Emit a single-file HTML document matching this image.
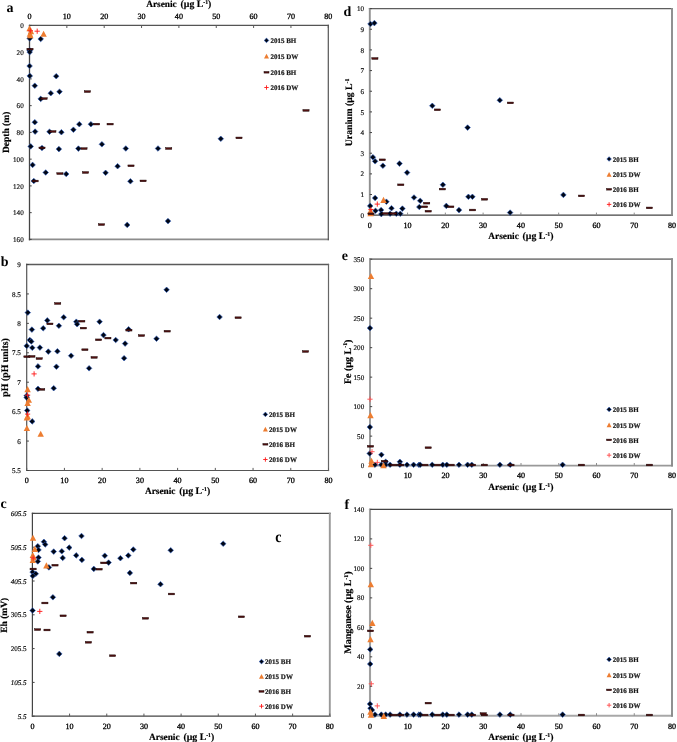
<!DOCTYPE html><html><head><meta charset="utf-8"><style>
*{margin:0;padding:0}
html,body{width:677px;height:742px;background:#fff;overflow:hidden}
svg{display:block;will-change:transform}
text{font-family:"Liberation Serif",serif;fill:#000;text-rendering:geometricPrecision}
.xl{font-size:8.1px;text-anchor:middle;stroke:#000;stroke-width:0.3px}
.yl{font-size:7.1px;text-anchor:end;stroke:#111;stroke-width:0.16px}
.it{font-style:italic}
.lt{font-size:14px;font-weight:bold;fill:#000}
.ti{font-size:9.8px;font-weight:bold;stroke:#000;stroke-width:0.18px}
.sup{font-size:5.8px}
.lg{font-size:7.0px;font-weight:bold;fill:#1a1a1a;stroke:#1a1a1a;stroke-width:0.22px}
.dm{fill:#000614;stroke:#2d5fc4;stroke-width:0.6}
.tr{fill:#ed7d31}
.ds{fill:#521010;stroke:#140202;stroke-width:0.45}
.pl{stroke:#ff2020;stroke-width:0.95;fill:none}
.pk .pl{stroke:#ff5050}
</style></head><body><svg width="677" height="742" viewBox="0 0 677 742">
<rect width="677" height="742" fill="#fff"/>
<line x1="28.85" y1="25.4" x2="328.90" y2="25.4" stroke="#555" stroke-width="1.2"/>
<line x1="28.85" y1="239.4" x2="328.90" y2="239.4" stroke="#8c8c8c" stroke-width="1.9"/>
<line x1="328.3" y1="24.80" x2="328.3" y2="240.35" stroke="#555" stroke-width="1.2"/>
<line x1="29.5" y1="24.80" x2="29.5" y2="240.35" stroke="#444" stroke-width="1.3"/>
<line x1="29.50" y1="25.4" x2="29.50" y2="28.0" stroke="#5a5a5a" stroke-width="1"/>
<text x="29.50" y="18.90" class="xl">0</text>
<line x1="66.85" y1="25.4" x2="66.85" y2="28.0" stroke="#5a5a5a" stroke-width="1"/>
<text x="66.85" y="18.90" class="xl">10</text>
<line x1="104.20" y1="25.4" x2="104.20" y2="28.0" stroke="#5a5a5a" stroke-width="1"/>
<text x="104.20" y="18.90" class="xl">20</text>
<line x1="141.55" y1="25.4" x2="141.55" y2="28.0" stroke="#5a5a5a" stroke-width="1"/>
<text x="141.55" y="18.90" class="xl">30</text>
<line x1="178.90" y1="25.4" x2="178.90" y2="28.0" stroke="#5a5a5a" stroke-width="1"/>
<text x="178.90" y="18.90" class="xl">40</text>
<line x1="216.25" y1="25.4" x2="216.25" y2="28.0" stroke="#5a5a5a" stroke-width="1"/>
<text x="216.25" y="18.90" class="xl">50</text>
<line x1="253.60" y1="25.4" x2="253.60" y2="28.0" stroke="#5a5a5a" stroke-width="1"/>
<text x="253.60" y="18.90" class="xl">60</text>
<line x1="290.95" y1="25.4" x2="290.95" y2="28.0" stroke="#5a5a5a" stroke-width="1"/>
<text x="290.95" y="18.90" class="xl">70</text>
<line x1="328.30" y1="25.4" x2="328.30" y2="28.0" stroke="#5a5a5a" stroke-width="1"/>
<text x="328.30" y="18.90" class="xl">80</text>
<line x1="29.5" y1="25.40" x2="31.7" y2="25.40" stroke="#444" stroke-width="1"/>
<text x="23.70" y="28.00" class="yl">0</text>
<line x1="29.5" y1="52.15" x2="31.7" y2="52.15" stroke="#444" stroke-width="1"/>
<text x="23.70" y="54.75" class="yl">20</text>
<line x1="29.5" y1="78.90" x2="31.7" y2="78.90" stroke="#444" stroke-width="1"/>
<text x="23.70" y="81.50" class="yl">40</text>
<line x1="29.5" y1="105.65" x2="31.7" y2="105.65" stroke="#444" stroke-width="1"/>
<text x="23.70" y="108.25" class="yl">60</text>
<line x1="29.5" y1="132.40" x2="31.7" y2="132.40" stroke="#444" stroke-width="1"/>
<text x="23.70" y="135.00" class="yl">80</text>
<line x1="29.5" y1="159.15" x2="31.7" y2="159.15" stroke="#444" stroke-width="1"/>
<text x="23.70" y="161.75" class="yl">100</text>
<line x1="29.5" y1="185.90" x2="31.7" y2="185.90" stroke="#444" stroke-width="1"/>
<text x="23.70" y="188.50" class="yl">120</text>
<line x1="29.5" y1="212.65" x2="31.7" y2="212.65" stroke="#444" stroke-width="1"/>
<text x="23.70" y="215.25" class="yl">140</text>
<line x1="29.5" y1="239.40" x2="31.7" y2="239.40" stroke="#444" stroke-width="1"/>
<text x="23.70" y="242.00" class="yl">160</text>
<line x1="26.10" y1="264.5" x2="329.10" y2="264.5" stroke="#5a5a5a" stroke-width="1.3"/>
<line x1="26.10" y1="470.5" x2="329.10" y2="470.5" stroke="#555" stroke-width="1.2"/>
<line x1="328.5" y1="263.85" x2="328.5" y2="471.10" stroke="#666" stroke-width="1.2"/>
<line x1="26.7" y1="263.85" x2="26.7" y2="471.10" stroke="#555" stroke-width="1.2"/>
<line x1="26.70" y1="470.5" x2="26.70" y2="467.9" stroke="#5a5a5a" stroke-width="1"/>
<text x="26.70" y="483.20" class="xl">0</text>
<line x1="64.42" y1="470.5" x2="64.42" y2="467.9" stroke="#5a5a5a" stroke-width="1"/>
<text x="64.42" y="483.20" class="xl">10</text>
<line x1="102.15" y1="470.5" x2="102.15" y2="467.9" stroke="#5a5a5a" stroke-width="1"/>
<text x="102.15" y="483.20" class="xl">20</text>
<line x1="139.88" y1="470.5" x2="139.88" y2="467.9" stroke="#5a5a5a" stroke-width="1"/>
<text x="139.88" y="483.20" class="xl">30</text>
<line x1="177.60" y1="470.5" x2="177.60" y2="467.9" stroke="#5a5a5a" stroke-width="1"/>
<text x="177.60" y="483.20" class="xl">40</text>
<line x1="215.32" y1="470.5" x2="215.32" y2="467.9" stroke="#5a5a5a" stroke-width="1"/>
<text x="215.32" y="483.20" class="xl">50</text>
<line x1="253.05" y1="470.5" x2="253.05" y2="467.9" stroke="#5a5a5a" stroke-width="1"/>
<text x="253.05" y="483.20" class="xl">60</text>
<line x1="290.77" y1="470.5" x2="290.77" y2="467.9" stroke="#5a5a5a" stroke-width="1"/>
<text x="290.77" y="483.20" class="xl">70</text>
<line x1="328.50" y1="470.5" x2="328.50" y2="467.9" stroke="#5a5a5a" stroke-width="1"/>
<text x="328.50" y="483.20" class="xl">80</text>
<line x1="26.7" y1="470.50" x2="28.9" y2="470.50" stroke="#444" stroke-width="1"/>
<text x="20.90" y="473.10" class="yl">5.5</text>
<line x1="26.7" y1="441.07" x2="28.9" y2="441.07" stroke="#444" stroke-width="1"/>
<text x="20.90" y="443.67" class="yl">6</text>
<line x1="26.7" y1="411.64" x2="28.9" y2="411.64" stroke="#444" stroke-width="1"/>
<text x="20.90" y="414.24" class="yl">6.5</text>
<line x1="26.7" y1="382.21" x2="28.9" y2="382.21" stroke="#444" stroke-width="1"/>
<text x="20.90" y="384.81" class="yl">7</text>
<line x1="26.7" y1="352.79" x2="28.9" y2="352.79" stroke="#444" stroke-width="1"/>
<text x="20.90" y="355.39" class="yl">7.5</text>
<line x1="26.7" y1="323.36" x2="28.9" y2="323.36" stroke="#444" stroke-width="1"/>
<text x="20.90" y="325.96" class="yl">8</text>
<line x1="26.7" y1="293.93" x2="28.9" y2="293.93" stroke="#444" stroke-width="1"/>
<text x="20.90" y="296.53" class="yl">8.5</text>
<line x1="26.7" y1="264.50" x2="28.9" y2="264.50" stroke="#444" stroke-width="1"/>
<text x="20.90" y="267.10" class="yl">9</text>
<line x1="31.80" y1="513.4" x2="330.75" y2="513.4" stroke="#4a4a4a" stroke-width="1.3"/>
<line x1="31.80" y1="716.2" x2="330.75" y2="716.2" stroke="#444" stroke-width="1.2"/>
<line x1="329.8" y1="512.75" x2="329.8" y2="716.80" stroke="#999" stroke-width="1.9"/>
<line x1="32.4" y1="512.75" x2="32.4" y2="716.80" stroke="#444" stroke-width="1.2"/>
<line x1="32.40" y1="716.2" x2="32.40" y2="713.6" stroke="#5a5a5a" stroke-width="1"/>
<text x="32.40" y="728.90" class="xl">0</text>
<line x1="69.58" y1="716.2" x2="69.58" y2="713.6" stroke="#5a5a5a" stroke-width="1"/>
<text x="69.58" y="728.90" class="xl">10</text>
<line x1="106.75" y1="716.2" x2="106.75" y2="713.6" stroke="#5a5a5a" stroke-width="1"/>
<text x="106.75" y="728.90" class="xl">20</text>
<line x1="143.93" y1="716.2" x2="143.93" y2="713.6" stroke="#5a5a5a" stroke-width="1"/>
<text x="143.93" y="728.90" class="xl">30</text>
<line x1="181.10" y1="716.2" x2="181.10" y2="713.6" stroke="#5a5a5a" stroke-width="1"/>
<text x="181.10" y="728.90" class="xl">40</text>
<line x1="218.28" y1="716.2" x2="218.28" y2="713.6" stroke="#5a5a5a" stroke-width="1"/>
<text x="218.28" y="728.90" class="xl">50</text>
<line x1="255.45" y1="716.2" x2="255.45" y2="713.6" stroke="#5a5a5a" stroke-width="1"/>
<text x="255.45" y="728.90" class="xl">60</text>
<line x1="292.62" y1="716.2" x2="292.62" y2="713.6" stroke="#5a5a5a" stroke-width="1"/>
<text x="292.62" y="728.90" class="xl">70</text>
<line x1="329.80" y1="716.2" x2="329.80" y2="713.6" stroke="#5a5a5a" stroke-width="1"/>
<text x="329.80" y="728.90" class="xl">80</text>
<line x1="32.4" y1="716.20" x2="34.6" y2="716.20" stroke="#444" stroke-width="1"/>
<text x="26.60" y="718.80" class="yl it">5.5</text>
<line x1="32.4" y1="682.40" x2="34.6" y2="682.40" stroke="#444" stroke-width="1"/>
<text x="26.60" y="685.00" class="yl it">105.5</text>
<line x1="32.4" y1="648.60" x2="34.6" y2="648.60" stroke="#444" stroke-width="1"/>
<text x="26.60" y="651.20" class="yl">205.5</text>
<line x1="32.4" y1="614.80" x2="34.6" y2="614.80" stroke="#444" stroke-width="1"/>
<text x="26.60" y="617.40" class="yl">305.5</text>
<line x1="32.4" y1="581.00" x2="34.6" y2="581.00" stroke="#444" stroke-width="1"/>
<text x="26.60" y="583.60" class="yl it">405.5</text>
<line x1="32.4" y1="547.20" x2="34.6" y2="547.20" stroke="#444" stroke-width="1"/>
<text x="26.60" y="549.80" class="yl it">505.5</text>
<line x1="32.4" y1="513.40" x2="34.6" y2="513.40" stroke="#444" stroke-width="1"/>
<text x="26.60" y="516.00" class="yl it">605.5</text>
<line x1="368.85" y1="8.6" x2="672.95" y2="8.6" stroke="#5e5e5e" stroke-width="1.3"/>
<line x1="368.85" y1="215.2" x2="672.95" y2="215.2" stroke="#444" stroke-width="1.2"/>
<line x1="672.0" y1="7.95" x2="672.0" y2="215.80" stroke="#8c8c8c" stroke-width="1.9"/>
<line x1="369.8" y1="7.95" x2="369.8" y2="215.80" stroke="#909090" stroke-width="1.9"/>
<line x1="369.80" y1="215.2" x2="369.80" y2="212.6" stroke="#8c8c8c" stroke-width="1"/>
<text x="369.80" y="227.90" class="xl">0</text>
<line x1="407.57" y1="215.2" x2="407.57" y2="212.6" stroke="#8c8c8c" stroke-width="1"/>
<text x="407.57" y="227.90" class="xl">10</text>
<line x1="445.35" y1="215.2" x2="445.35" y2="212.6" stroke="#8c8c8c" stroke-width="1"/>
<text x="445.35" y="227.90" class="xl">20</text>
<line x1="483.12" y1="215.2" x2="483.12" y2="212.6" stroke="#8c8c8c" stroke-width="1"/>
<text x="483.12" y="227.90" class="xl">30</text>
<line x1="520.90" y1="215.2" x2="520.90" y2="212.6" stroke="#8c8c8c" stroke-width="1"/>
<text x="520.90" y="227.90" class="xl">40</text>
<line x1="558.67" y1="215.2" x2="558.67" y2="212.6" stroke="#8c8c8c" stroke-width="1"/>
<text x="558.67" y="227.90" class="xl">50</text>
<line x1="596.45" y1="215.2" x2="596.45" y2="212.6" stroke="#8c8c8c" stroke-width="1"/>
<text x="596.45" y="227.90" class="xl">60</text>
<line x1="634.23" y1="215.2" x2="634.23" y2="212.6" stroke="#8c8c8c" stroke-width="1"/>
<text x="634.23" y="227.90" class="xl">70</text>
<line x1="672.00" y1="215.2" x2="672.00" y2="212.6" stroke="#8c8c8c" stroke-width="1"/>
<text x="672.00" y="227.90" class="xl">80</text>
<line x1="369.8" y1="215.20" x2="372.0" y2="215.20" stroke="#444" stroke-width="1"/>
<text x="364.00" y="217.80" class="yl">0</text>
<line x1="369.8" y1="194.54" x2="372.0" y2="194.54" stroke="#444" stroke-width="1"/>
<text x="364.00" y="197.14" class="yl">1</text>
<line x1="369.8" y1="173.88" x2="372.0" y2="173.88" stroke="#444" stroke-width="1"/>
<text x="364.00" y="176.48" class="yl">2</text>
<line x1="369.8" y1="153.22" x2="372.0" y2="153.22" stroke="#444" stroke-width="1"/>
<text x="364.00" y="155.82" class="yl">3</text>
<line x1="369.8" y1="132.56" x2="372.0" y2="132.56" stroke="#444" stroke-width="1"/>
<text x="364.00" y="135.16" class="yl">4</text>
<line x1="369.8" y1="111.90" x2="372.0" y2="111.90" stroke="#444" stroke-width="1"/>
<text x="364.00" y="114.50" class="yl">5</text>
<line x1="369.8" y1="91.24" x2="372.0" y2="91.24" stroke="#444" stroke-width="1"/>
<text x="364.00" y="93.84" class="yl">6</text>
<line x1="369.8" y1="70.58" x2="372.0" y2="70.58" stroke="#444" stroke-width="1"/>
<text x="364.00" y="73.18" class="yl">7</text>
<line x1="369.8" y1="49.92" x2="372.0" y2="49.92" stroke="#444" stroke-width="1"/>
<text x="364.00" y="52.52" class="yl">8</text>
<line x1="369.8" y1="29.26" x2="372.0" y2="29.26" stroke="#444" stroke-width="1"/>
<text x="364.00" y="31.86" class="yl">9</text>
<line x1="369.8" y1="8.60" x2="372.0" y2="8.60" stroke="#444" stroke-width="1"/>
<text x="364.00" y="11.20" class="yl">10</text>
<line x1="369.05" y1="259.2" x2="672.95" y2="259.2" stroke="#848484" stroke-width="1.7"/>
<line x1="369.05" y1="465.6" x2="672.95" y2="465.6" stroke="#999" stroke-width="1.9"/>
<line x1="672.0" y1="258.35" x2="672.0" y2="466.55" stroke="#8c8c8c" stroke-width="1.9"/>
<line x1="370.0" y1="258.35" x2="370.0" y2="466.55" stroke="#999" stroke-width="1.9"/>
<line x1="370.00" y1="465.6" x2="370.00" y2="463.0" stroke="#8c8c8c" stroke-width="1"/>
<text x="370.00" y="478.30" class="xl">0</text>
<line x1="407.75" y1="465.6" x2="407.75" y2="463.0" stroke="#8c8c8c" stroke-width="1"/>
<text x="407.75" y="478.30" class="xl">10</text>
<line x1="445.50" y1="465.6" x2="445.50" y2="463.0" stroke="#8c8c8c" stroke-width="1"/>
<text x="445.50" y="478.30" class="xl">20</text>
<line x1="483.25" y1="465.6" x2="483.25" y2="463.0" stroke="#8c8c8c" stroke-width="1"/>
<text x="483.25" y="478.30" class="xl">30</text>
<line x1="521.00" y1="465.6" x2="521.00" y2="463.0" stroke="#8c8c8c" stroke-width="1"/>
<text x="521.00" y="478.30" class="xl">40</text>
<line x1="558.75" y1="465.6" x2="558.75" y2="463.0" stroke="#8c8c8c" stroke-width="1"/>
<text x="558.75" y="478.30" class="xl">50</text>
<line x1="596.50" y1="465.6" x2="596.50" y2="463.0" stroke="#8c8c8c" stroke-width="1"/>
<text x="596.50" y="478.30" class="xl">60</text>
<line x1="634.25" y1="465.6" x2="634.25" y2="463.0" stroke="#8c8c8c" stroke-width="1"/>
<text x="634.25" y="478.30" class="xl">70</text>
<line x1="672.00" y1="465.6" x2="672.00" y2="463.0" stroke="#8c8c8c" stroke-width="1"/>
<text x="672.00" y="478.30" class="xl">80</text>
<line x1="370.0" y1="465.60" x2="372.2" y2="465.60" stroke="#444" stroke-width="1"/>
<text x="364.20" y="468.20" class="yl">0</text>
<line x1="370.0" y1="436.11" x2="372.2" y2="436.11" stroke="#444" stroke-width="1"/>
<text x="364.20" y="438.71" class="yl">50</text>
<line x1="370.0" y1="406.63" x2="372.2" y2="406.63" stroke="#444" stroke-width="1"/>
<text x="364.20" y="409.23" class="yl">100</text>
<line x1="370.0" y1="377.14" x2="372.2" y2="377.14" stroke="#444" stroke-width="1"/>
<text x="364.20" y="379.74" class="yl">150</text>
<line x1="370.0" y1="347.66" x2="372.2" y2="347.66" stroke="#444" stroke-width="1"/>
<text x="364.20" y="350.26" class="yl">200</text>
<line x1="370.0" y1="318.17" x2="372.2" y2="318.17" stroke="#444" stroke-width="1"/>
<text x="364.20" y="320.77" class="yl">250</text>
<line x1="370.0" y1="288.69" x2="372.2" y2="288.69" stroke="#444" stroke-width="1"/>
<text x="364.20" y="291.29" class="yl">300</text>
<line x1="370.0" y1="259.20" x2="372.2" y2="259.20" stroke="#444" stroke-width="1"/>
<text x="364.20" y="261.80" class="yl">350</text>
<line x1="368.95" y1="509.4" x2="672.95" y2="509.4" stroke="#444" stroke-width="1.2"/>
<line x1="368.95" y1="715.8" x2="672.95" y2="715.8" stroke="#a8a8a8" stroke-width="2.0"/>
<line x1="672.0" y1="508.80" x2="672.0" y2="716.80" stroke="#8c8c8c" stroke-width="1.9"/>
<line x1="370.0" y1="508.80" x2="370.0" y2="716.80" stroke="#a0a0a0" stroke-width="2.1"/>
<line x1="370.00" y1="715.8" x2="370.00" y2="713.1999999999999" stroke="#8c8c8c" stroke-width="1"/>
<text x="370.00" y="728.50" class="xl">0</text>
<line x1="407.75" y1="715.8" x2="407.75" y2="713.1999999999999" stroke="#8c8c8c" stroke-width="1"/>
<text x="407.75" y="728.50" class="xl">10</text>
<line x1="445.50" y1="715.8" x2="445.50" y2="713.1999999999999" stroke="#8c8c8c" stroke-width="1"/>
<text x="445.50" y="728.50" class="xl">20</text>
<line x1="483.25" y1="715.8" x2="483.25" y2="713.1999999999999" stroke="#8c8c8c" stroke-width="1"/>
<text x="483.25" y="728.50" class="xl">30</text>
<line x1="521.00" y1="715.8" x2="521.00" y2="713.1999999999999" stroke="#8c8c8c" stroke-width="1"/>
<text x="521.00" y="728.50" class="xl">40</text>
<line x1="558.75" y1="715.8" x2="558.75" y2="713.1999999999999" stroke="#8c8c8c" stroke-width="1"/>
<text x="558.75" y="728.50" class="xl">50</text>
<line x1="596.50" y1="715.8" x2="596.50" y2="713.1999999999999" stroke="#8c8c8c" stroke-width="1"/>
<text x="596.50" y="728.50" class="xl">60</text>
<line x1="634.25" y1="715.8" x2="634.25" y2="713.1999999999999" stroke="#8c8c8c" stroke-width="1"/>
<text x="634.25" y="728.50" class="xl">70</text>
<line x1="672.00" y1="715.8" x2="672.00" y2="713.1999999999999" stroke="#8c8c8c" stroke-width="1"/>
<text x="672.00" y="728.50" class="xl">80</text>
<line x1="370.0" y1="715.80" x2="372.2" y2="715.80" stroke="#444" stroke-width="1"/>
<text x="364.20" y="718.40" class="yl">0</text>
<line x1="370.0" y1="686.31" x2="372.2" y2="686.31" stroke="#444" stroke-width="1"/>
<text x="364.20" y="688.91" class="yl">20</text>
<line x1="370.0" y1="656.83" x2="372.2" y2="656.83" stroke="#444" stroke-width="1"/>
<text x="364.20" y="659.43" class="yl">40</text>
<line x1="370.0" y1="627.34" x2="372.2" y2="627.34" stroke="#444" stroke-width="1"/>
<text x="364.20" y="629.94" class="yl">60</text>
<line x1="370.0" y1="597.86" x2="372.2" y2="597.86" stroke="#444" stroke-width="1"/>
<text x="364.20" y="600.46" class="yl">80</text>
<line x1="370.0" y1="568.37" x2="372.2" y2="568.37" stroke="#444" stroke-width="1"/>
<text x="364.20" y="570.97" class="yl">100</text>
<line x1="370.0" y1="538.89" x2="372.2" y2="538.89" stroke="#444" stroke-width="1"/>
<text x="364.20" y="541.49" class="yl">120</text>
<line x1="370.0" y1="509.40" x2="372.2" y2="509.40" stroke="#444" stroke-width="1"/>
<text x="364.20" y="512.00" class="yl">140</text>
<text x="6.5" y="11.8" class="lt">a</text>
<text x="0.8" y="266.0" class="lt">b</text>
<text x="0.4" y="508.4" class="lt">c</text>
<text transform="translate(275.2,542.0) scale(1,1.13)" class="lt">c</text>
<text x="343.4" y="16.0" class="lt">d</text>
<text x="341.8" y="259.8" class="lt">e</text>
<text x="344.6" y="509.0" class="lt">f</text>
<text x="178.8" y="6.9" class="ti" text-anchor="middle"><tspan style="font-size:9.3px">Arsenic</tspan><tspan dx="3.8">(µg L</tspan><tspan dy="-3.2" class="sup">-1</tspan><tspan dy="3.2">)</tspan></text>
<text x="177.6" y="494.2" class="ti" text-anchor="middle"><tspan style="font-size:9.3px">Arsenic</tspan><tspan dx="3.8">(µg L</tspan><tspan dy="-3.2" class="sup">-1</tspan><tspan dy="3.2">)</tspan></text>
<text x="181.7" y="739.9" class="ti" text-anchor="middle"><tspan style="font-size:9.3px">Arsenic</tspan><tspan dx="3.8">(µg L</tspan><tspan dy="-3.2" class="sup">-1</tspan><tspan dy="3.2">)</tspan></text>
<text x="520.9" y="239.3" class="ti" text-anchor="middle"><tspan style="font-size:9.3px">Arsenic</tspan><tspan dx="3.8">(µg L</tspan><tspan dy="-3.2" class="sup">-1</tspan><tspan dy="3.2">)</tspan></text>
<text x="520.9" y="489.7" class="ti" text-anchor="middle"><tspan style="font-size:9.3px">Arsenic</tspan><tspan dx="3.8">(µg L</tspan><tspan dy="-3.2" class="sup">-1</tspan><tspan dy="3.2">)</tspan></text>
<text x="520.9" y="740.0" class="ti" text-anchor="middle"><tspan style="font-size:9.3px">Arsenic</tspan><tspan dx="3.8">(µg L</tspan><tspan dy="-3.2" class="sup">-1</tspan><tspan dy="3.2">)</tspan></text>
<text transform="translate(8.6,132.4) rotate(-90)" x="0" y="0" class="ti" style="font-size:9.5px" text-anchor="middle">Depth (m)</text>
<text transform="translate(8.4,367.4) rotate(-90)" x="0" y="0" class="ti" style="font-size:9.85px" text-anchor="middle">pH (pH units)</text>
<text transform="translate(6.6,615.3) rotate(-90)" x="0" y="0" class="ti" style="font-size:9.5px" text-anchor="middle">Eh (mV)</text>
<text transform="translate(352.2,112.4) rotate(-90)" x="0" y="0" class="ti" style="font-size:9.7px" text-anchor="middle">Uranium (µg L<tspan dy="-3.2" class="sup">-1</tspan></text>
<text transform="translate(350.6,361.8) rotate(-90)" x="0" y="0" class="ti" style="font-size:10px" text-anchor="middle">Fe (µg L<tspan dy="-3.2" class="sup">-1</tspan><tspan dy="3.2">)</tspan></text>
<text transform="translate(350.8,612.6) rotate(-90)" x="0" y="0" class="ti" style="font-size:10px" text-anchor="middle">Manganese (µg L<tspan dy="-3.2" class="sup">-1</tspan><tspan dy="3.2">)</tspan></text>
<g><path d="M29.70 35.60L32.50 38.40L29.70 41.20L26.90 38.40Z" class="dm"/><path d="M40.70 36.20L43.50 39.00L40.70 41.80L37.90 39.00Z" class="dm"/><path d="M29.70 47.60L32.50 50.40L29.70 53.20L26.90 50.40Z" class="dm"/><path d="M29.70 49.30L32.50 52.10L29.70 54.90L26.90 52.10Z" class="dm"/><path d="M29.60 63.20L32.40 66.00L29.60 68.80L26.80 66.00Z" class="dm"/><path d="M29.80 73.10L32.60 75.90L29.80 78.70L27.00 75.90Z" class="dm"/><path d="M56.20 73.40L59.00 76.20L56.20 79.00L53.40 76.20Z" class="dm"/><path d="M34.80 82.90L37.60 85.70L34.80 88.50L32.00 85.70Z" class="dm"/><path d="M50.80 90.40L53.60 93.20L50.80 96.00L48.00 93.20Z" class="dm"/><path d="M59.50 88.90L62.30 91.70L59.50 94.50L56.70 91.70Z" class="dm"/><path d="M40.70 96.10L43.50 98.90L40.70 101.70L37.90 98.90Z" class="dm"/><path d="M34.80 119.40L37.60 122.20L34.80 125.00L32.00 122.20Z" class="dm"/><path d="M79.30 121.40L82.10 124.20L79.30 127.00L76.50 124.20Z" class="dm"/><path d="M90.90 121.40L93.70 124.20L90.90 127.00L88.10 124.20Z" class="dm"/><path d="M35.10 128.80L37.90 131.60L35.10 134.40L32.30 131.60Z" class="dm"/><path d="M49.50 128.90L52.30 131.70L49.50 134.50L46.70 131.70Z" class="dm"/><path d="M61.40 129.40L64.20 132.20L61.40 135.00L58.60 132.20Z" class="dm"/><path d="M73.40 126.90L76.20 129.70L73.40 132.50L70.60 129.70Z" class="dm"/><path d="M30.70 143.60L33.50 146.40L30.70 149.20L27.90 146.40Z" class="dm"/><path d="M42.00 145.20L44.80 148.00L42.00 150.80L39.20 148.00Z" class="dm"/><path d="M58.90 146.30L61.70 149.10L58.90 151.90L56.10 149.10Z" class="dm"/><path d="M78.40 145.80L81.20 148.60L78.40 151.40L75.60 148.60Z" class="dm"/><path d="M101.90 141.50L104.70 144.30L101.90 147.10L99.10 144.30Z" class="dm"/><path d="M125.80 145.70L128.60 148.50L125.80 151.30L123.00 148.50Z" class="dm"/><path d="M158.00 145.70L160.80 148.50L158.00 151.30L155.20 148.50Z" class="dm"/><path d="M220.80 136.00L223.60 138.80L220.80 141.60L218.00 138.80Z" class="dm"/><path d="M32.60 162.10L35.40 164.90L32.60 167.70L29.80 164.90Z" class="dm"/><path d="M45.70 169.70L48.50 172.50L45.70 175.30L42.90 172.50Z" class="dm"/><path d="M66.20 171.20L69.00 174.00L66.20 176.80L63.40 174.00Z" class="dm"/><path d="M105.60 170.00L108.40 172.80L105.60 175.60L102.80 172.80Z" class="dm"/><path d="M117.60 163.40L120.40 166.20L117.60 169.00L114.80 166.20Z" class="dm"/><path d="M33.80 178.20L36.60 181.00L33.80 183.80L31.00 181.00Z" class="dm"/><path d="M130.40 178.50L133.20 181.30L130.40 184.10L127.60 181.30Z" class="dm"/><path d="M127.20 222.10L130.00 224.90L127.20 227.70L124.40 224.90Z" class="dm"/><path d="M168.00 218.30L170.80 221.10L168.00 223.90L165.20 221.10Z" class="dm"/><path d="M29.60 25.16L32.80 31.24L26.40 31.24Z" class="tr"/><path d="M31.00 28.16L34.20 34.24L27.80 34.24Z" class="tr"/><path d="M29.90 30.66L33.10 36.74L26.70 36.74Z" class="tr"/><path d="M30.40 32.26L33.60 38.34L27.20 38.34Z" class="tr"/><path d="M43.60 30.76L46.80 36.84L40.40 36.84Z" class="tr"/><rect x="26.90" y="48.25" width="6.20" height="1.70" class="ds"/><rect x="84.30" y="90.75" width="6.20" height="1.70" class="ds"/><rect x="41.00" y="97.75" width="6.20" height="1.70" class="ds"/><rect x="93.50" y="123.25" width="6.20" height="1.70" class="ds"/><rect x="107.00" y="123.25" width="6.20" height="1.70" class="ds"/><rect x="49.80" y="130.65" width="6.20" height="1.70" class="ds"/><rect x="38.90" y="147.05" width="6.20" height="1.70" class="ds"/><rect x="80.90" y="147.75" width="6.20" height="1.70" class="ds"/><rect x="165.60" y="147.65" width="6.20" height="1.70" class="ds"/><rect x="235.90" y="137.05" width="6.20" height="1.70" class="ds"/><rect x="302.90" y="109.55" width="6.20" height="1.70" class="ds"/><rect x="127.90" y="164.95" width="6.20" height="1.70" class="ds"/><rect x="56.80" y="172.75" width="6.20" height="1.70" class="ds"/><rect x="82.40" y="171.65" width="6.20" height="1.70" class="ds"/><rect x="32.00" y="180.15" width="6.20" height="1.70" class="ds"/><rect x="140.00" y="180.05" width="6.20" height="1.70" class="ds"/><rect x="98.40" y="223.75" width="6.20" height="1.70" class="ds"/><path d="M27.80 30.80H33.00M30.40 28.20V33.40" class="pl"/><path d="M34.60 31.20H39.80M37.20 28.60V33.80" class="pl"/></g>
<g><path d="M27.80 309.80L30.60 312.60L27.80 315.40L25.00 312.60Z" class="dm"/><path d="M63.70 314.50L66.50 317.30L63.70 320.10L60.90 317.30Z" class="dm"/><path d="M47.30 317.60L50.10 320.40L47.30 323.20L44.50 320.40Z" class="dm"/><path d="M31.90 326.80L34.70 329.60L31.90 332.40L29.10 329.60Z" class="dm"/><path d="M43.20 325.50L46.00 328.30L43.20 331.10L40.40 328.30Z" class="dm"/><path d="M58.90 323.00L61.70 325.80L58.90 328.60L56.10 325.80Z" class="dm"/><path d="M76.30 318.90L79.10 321.70L76.30 324.50L73.50 321.70Z" class="dm"/><path d="M77.10 321.40L79.90 324.20L77.10 327.00L74.30 324.20Z" class="dm"/><path d="M99.60 318.90L102.40 321.70L99.60 324.50L96.80 321.70Z" class="dm"/><path d="M166.60 287.00L169.40 289.80L166.60 292.60L163.80 289.80Z" class="dm"/><path d="M128.60 326.50L131.40 329.30L128.60 332.10L125.80 329.30Z" class="dm"/><path d="M103.50 332.30L106.30 335.10L103.50 337.90L100.70 335.10Z" class="dm"/><path d="M115.70 337.20L118.50 340.00L115.70 342.80L112.90 340.00Z" class="dm"/><path d="M125.10 340.80L127.90 343.60L125.10 346.40L122.30 343.60Z" class="dm"/><path d="M156.50 335.90L159.30 338.70L156.50 341.50L153.70 338.70Z" class="dm"/><path d="M124.10 355.40L126.90 358.20L124.10 361.00L121.30 358.20Z" class="dm"/><path d="M219.60 314.20L222.40 317.00L219.60 319.80L216.80 317.00Z" class="dm"/><path d="M29.80 337.20L32.60 340.00L29.80 342.80L27.00 340.00Z" class="dm"/><path d="M31.30 338.70L34.10 341.50L31.30 344.30L28.50 341.50Z" class="dm"/><path d="M26.70 343.10L29.50 345.90L26.70 348.70L23.90 345.90Z" class="dm"/><path d="M32.30 345.00L35.10 347.80L32.30 350.60L29.50 347.80Z" class="dm"/><path d="M39.90 344.80L42.70 347.60L39.90 350.40L37.10 347.60Z" class="dm"/><path d="M48.30 348.80L51.10 351.60L48.30 354.40L45.50 351.60Z" class="dm"/><path d="M57.40 348.50L60.20 351.30L57.40 354.10L54.60 351.30Z" class="dm"/><path d="M71.10 352.90L73.90 355.70L71.10 358.50L68.30 355.70Z" class="dm"/><path d="M38.00 363.60L40.80 366.40L38.00 369.20L35.20 366.40Z" class="dm"/><path d="M56.40 363.90L59.20 366.70L56.40 369.50L53.60 366.70Z" class="dm"/><path d="M89.10 365.50L91.90 368.30L89.10 371.10L86.30 368.30Z" class="dm"/><path d="M38.00 386.00L40.80 388.80L38.00 391.60L35.20 388.80Z" class="dm"/><path d="M53.70 385.40L56.50 388.20L53.70 391.00L50.90 388.20Z" class="dm"/><path d="M26.70 392.90L29.50 395.70L26.70 398.50L23.90 395.70Z" class="dm"/><path d="M26.70 394.80L29.50 397.60L26.70 400.40L23.90 397.60Z" class="dm"/><path d="M27.20 407.70L30.00 410.50L27.20 413.30L24.40 410.50Z" class="dm"/><path d="M32.20 418.60L35.00 421.40L32.20 424.20L29.40 421.40Z" class="dm"/><path d="M27.60 386.06L30.80 392.14L24.40 392.14Z" class="tr"/><path d="M28.80 396.76L32.00 402.84L25.60 402.84Z" class="tr"/><path d="M27.60 399.86L30.80 405.94L24.40 405.94Z" class="tr"/><path d="M26.90 414.36L30.10 420.44L23.70 420.44Z" class="tr"/><path d="M27.60 413.06L30.80 419.14L24.40 419.14Z" class="tr"/><path d="M26.90 424.96L30.10 431.04L23.70 431.04Z" class="tr"/><path d="M40.70 430.66L43.90 436.74L37.50 436.74Z" class="tr"/><rect x="54.60" y="302.65" width="6.20" height="1.70" class="ds"/><rect x="46.80" y="323.05" width="6.20" height="1.70" class="ds"/><rect x="78.70" y="320.35" width="6.20" height="1.70" class="ds"/><rect x="80.30" y="327.25" width="6.20" height="1.70" class="ds"/><rect x="95.50" y="338.95" width="6.20" height="1.70" class="ds"/><rect x="125.80" y="329.35" width="6.20" height="1.70" class="ds"/><rect x="138.40" y="334.75" width="6.20" height="1.70" class="ds"/><rect x="164.10" y="330.35" width="6.20" height="1.70" class="ds"/><rect x="104.80" y="337.25" width="6.20" height="1.70" class="ds"/><rect x="81.80" y="348.85" width="6.20" height="1.70" class="ds"/><rect x="91.00" y="356.55" width="6.20" height="1.70" class="ds"/><rect x="23.80" y="355.85" width="6.20" height="1.70" class="ds"/><rect x="28.80" y="355.55" width="6.20" height="1.70" class="ds"/><rect x="36.10" y="357.75" width="6.20" height="1.70" class="ds"/><rect x="38.60" y="388.55" width="6.20" height="1.70" class="ds"/><rect x="235.00" y="316.85" width="6.20" height="1.70" class="ds"/><rect x="302.40" y="350.65" width="6.20" height="1.70" class="ds"/><path d="M31.50 373.90H36.70M34.10 371.30V376.50" class="pl"/><path d="M25.00 395.10H30.20M27.60 392.50V397.70" class="pl"/><path d="M25.00 414.10H30.20M27.60 411.50V416.70" class="pl"/></g>
<g><path d="M43.90 539.00L46.70 541.80L43.90 544.60L41.10 541.80Z" class="dm"/><path d="M45.20 541.70L48.00 544.50L45.20 547.30L42.40 544.50Z" class="dm"/><path d="M37.80 543.40L40.60 546.20L37.80 549.00L35.00 546.20Z" class="dm"/><path d="M38.50 547.10L41.30 549.90L38.50 552.70L35.70 549.90Z" class="dm"/><path d="M53.70 548.80L56.50 551.60L53.70 554.40L50.90 551.60Z" class="dm"/><path d="M64.60 535.40L67.40 538.20L64.60 541.00L61.80 538.20Z" class="dm"/><path d="M81.50 533.20L84.30 536.00L81.50 538.80L78.70 536.00Z" class="dm"/><path d="M69.20 544.80L72.00 547.60L69.20 550.40L66.40 547.60Z" class="dm"/><path d="M61.80 548.50L64.60 551.30L61.80 554.10L59.00 551.30Z" class="dm"/><path d="M62.70 555.10L65.50 557.90L62.70 560.70L59.90 557.90Z" class="dm"/><path d="M76.20 552.60L79.00 555.40L76.20 558.20L73.40 555.40Z" class="dm"/><path d="M81.90 557.10L84.70 559.90L81.90 562.70L79.10 559.90Z" class="dm"/><path d="M104.80 552.90L107.60 555.70L104.80 558.50L102.00 555.70Z" class="dm"/><path d="M108.60 559.80L111.40 562.60L108.60 565.40L105.80 562.60Z" class="dm"/><path d="M120.40 555.40L123.20 558.20L120.40 561.00L117.60 558.20Z" class="dm"/><path d="M128.30 552.70L131.10 555.50L128.30 558.30L125.50 555.50Z" class="dm"/><path d="M133.30 546.70L136.10 549.50L133.30 552.30L130.50 549.50Z" class="dm"/><path d="M170.70 547.50L173.50 550.30L170.70 553.10L167.90 550.30Z" class="dm"/><path d="M129.90 570.10L132.70 572.90L129.90 575.70L127.10 572.90Z" class="dm"/><path d="M160.50 581.40L163.30 584.20L160.50 587.00L157.70 584.20Z" class="dm"/><path d="M223.20 540.90L226.00 543.70L223.20 546.50L220.40 543.70Z" class="dm"/><path d="M38.50 554.80L41.30 557.60L38.50 560.40L35.70 557.60Z" class="dm"/><path d="M37.80 558.60L40.60 561.40L37.80 564.20L35.00 561.40Z" class="dm"/><path d="M48.90 564.60L51.70 567.40L48.90 570.20L46.10 567.40Z" class="dm"/><path d="M93.80 566.10L96.60 568.90L93.80 571.70L91.00 568.90Z" class="dm"/><path d="M32.60 569.30L35.40 572.10L32.60 574.90L29.80 572.10Z" class="dm"/><path d="M35.80 571.00L38.60 573.80L35.80 576.60L33.00 573.80Z" class="dm"/><path d="M32.80 573.10L35.60 575.90L32.80 578.70L30.00 575.90Z" class="dm"/><path d="M52.90 594.50L55.70 597.30L52.90 600.10L50.10 597.30Z" class="dm"/><path d="M32.60 607.70L35.40 610.50L32.60 613.30L29.80 610.50Z" class="dm"/><path d="M59.30 651.10L62.10 653.90L59.30 656.70L56.50 653.90Z" class="dm"/><path d="M33.00 534.76L36.20 540.84L29.80 540.84Z" class="tr"/><path d="M34.80 545.86L38.00 551.94L31.60 551.94Z" class="tr"/><path d="M32.80 551.96L36.00 558.04L29.60 558.04Z" class="tr"/><path d="M33.50 554.16L36.70 560.24L30.30 560.24Z" class="tr"/><path d="M32.80 556.96L36.00 563.04L29.60 563.04Z" class="tr"/><path d="M46.40 562.36L49.60 568.44L43.20 568.44Z" class="tr"/><rect x="51.90" y="564.35" width="6.20" height="1.70" class="ds"/><rect x="96.00" y="568.35" width="6.20" height="1.70" class="ds"/><rect x="30.00" y="568.15" width="6.20" height="1.70" class="ds"/><rect x="100.70" y="562.05" width="6.20" height="1.70" class="ds"/><rect x="130.60" y="582.25" width="6.20" height="1.70" class="ds"/><rect x="168.40" y="593.15" width="6.20" height="1.70" class="ds"/><rect x="238.30" y="615.95" width="6.20" height="1.70" class="ds"/><rect x="41.80" y="602.15" width="6.20" height="1.70" class="ds"/><rect x="60.00" y="614.95" width="6.20" height="1.70" class="ds"/><rect x="34.50" y="628.75" width="6.20" height="1.70" class="ds"/><rect x="43.90" y="629.15" width="6.20" height="1.70" class="ds"/><rect x="87.00" y="631.35" width="6.20" height="1.70" class="ds"/><rect x="85.30" y="641.45" width="6.20" height="1.70" class="ds"/><rect x="109.50" y="654.85" width="6.20" height="1.70" class="ds"/><rect x="142.40" y="617.45" width="6.20" height="1.70" class="ds"/><rect x="304.40" y="635.35" width="6.20" height="1.70" class="ds"/><path d="M30.60 558.00H35.80M33.20 555.40V560.60" class="pl"/><path d="M37.20 611.40H42.40M39.80 608.80V614.00" class="pl"/></g>
<g><path d="M370.50 21.20L373.30 24.00L370.50 26.80L367.70 24.00Z" class="dm"/><path d="M374.40 20.30L377.20 23.10L374.40 25.90L371.60 23.10Z" class="dm"/><path d="M372.90 154.40L375.70 157.20L372.90 160.00L370.10 157.20Z" class="dm"/><path d="M375.10 158.50L377.90 161.30L375.10 164.10L372.30 161.30Z" class="dm"/><path d="M382.90 162.90L385.70 165.70L382.90 168.50L380.10 165.70Z" class="dm"/><path d="M399.50 160.80L402.30 163.60L399.50 166.40L396.70 163.60Z" class="dm"/><path d="M407.10 169.80L409.90 172.60L407.10 175.40L404.30 172.60Z" class="dm"/><path d="M442.90 182.00L445.70 184.80L442.90 187.60L440.10 184.80Z" class="dm"/><path d="M375.10 195.20L377.90 198.00L375.10 200.80L372.30 198.00Z" class="dm"/><path d="M386.40 198.90L389.20 201.70L386.40 204.50L383.60 201.70Z" class="dm"/><path d="M414.00 194.70L416.80 197.50L414.00 200.30L411.20 197.50Z" class="dm"/><path d="M420.20 198.00L423.00 200.80L420.20 203.60L417.40 200.80Z" class="dm"/><path d="M419.30 204.20L422.10 207.00L419.30 209.80L416.50 207.00Z" class="dm"/><path d="M370.20 203.10L373.00 205.90L370.20 208.70L367.40 205.90Z" class="dm"/><path d="M375.50 208.00L378.30 210.80L375.50 213.60L372.70 210.80Z" class="dm"/><path d="M381.10 207.30L383.90 210.10L381.10 212.90L378.30 210.10Z" class="dm"/><path d="M381.30 211.30L384.10 214.10L381.30 216.90L378.50 214.10Z" class="dm"/><path d="M391.50 205.40L394.30 208.20L391.50 211.00L388.70 208.20Z" class="dm"/><path d="M390.10 210.90L392.90 213.70L390.10 216.50L387.30 213.70Z" class="dm"/><path d="M396.30 210.90L399.10 213.70L396.30 216.50L393.50 213.70Z" class="dm"/><path d="M400.30 210.90L403.10 213.70L400.30 216.50L397.50 213.70Z" class="dm"/><path d="M402.40 205.80L405.20 208.60L402.40 211.40L399.60 208.60Z" class="dm"/><path d="M446.30 203.10L449.10 205.90L446.30 208.70L443.50 205.90Z" class="dm"/><path d="M459.00 207.30L461.80 210.10L459.00 212.90L456.20 210.10Z" class="dm"/><path d="M468.40 194.00L471.20 196.80L468.40 199.60L465.60 196.80Z" class="dm"/><path d="M472.40 194.00L475.20 196.80L472.40 199.60L469.60 196.80Z" class="dm"/><path d="M510.10 209.80L512.90 212.60L510.10 215.40L507.30 212.60Z" class="dm"/><path d="M563.40 192.10L566.20 194.90L563.40 197.70L560.60 194.90Z" class="dm"/><path d="M432.30 103.00L435.10 105.80L432.30 108.60L429.50 105.80Z" class="dm"/><path d="M499.80 97.40L502.60 100.20L499.80 103.00L497.00 100.20Z" class="dm"/><path d="M467.60 124.80L470.40 127.60L467.60 130.40L464.80 127.60Z" class="dm"/><path d="M383.50 196.86L386.70 202.94L380.30 202.94Z" class="tr"/><path d="M370.60 207.66L373.80 213.74L367.40 213.74Z" class="tr"/><path d="M370.60 210.16L373.80 216.24L367.40 216.24Z" class="tr"/><rect x="367.90" y="212.95" width="6.20" height="1.70" class="ds"/><rect x="371.80" y="57.65" width="6.20" height="1.70" class="ds"/><rect x="379.20" y="158.95" width="6.20" height="1.70" class="ds"/><rect x="397.70" y="183.95" width="6.20" height="1.70" class="ds"/><rect x="439.30" y="188.25" width="6.20" height="1.70" class="ds"/><rect x="423.60" y="202.35" width="6.20" height="1.70" class="ds"/><rect x="421.50" y="205.95" width="6.20" height="1.70" class="ds"/><rect x="425.10" y="210.35" width="6.20" height="1.70" class="ds"/><rect x="447.70" y="205.95" width="6.20" height="1.70" class="ds"/><rect x="481.50" y="198.45" width="6.20" height="1.70" class="ds"/><rect x="469.50" y="209.15" width="6.20" height="1.70" class="ds"/><rect x="382.20" y="212.65" width="6.20" height="1.70" class="ds"/><rect x="390.10" y="212.65" width="6.20" height="1.70" class="ds"/><rect x="434.30" y="108.95" width="6.20" height="1.70" class="ds"/><rect x="507.30" y="102.05" width="6.20" height="1.70" class="ds"/><rect x="578.40" y="195.05" width="6.20" height="1.70" class="ds"/><rect x="646.30" y="207.05" width="6.20" height="1.70" class="ds"/><path d="M374.70 204.10H379.90M377.30 201.50V206.70" class="pl"/><path d="M368.40 209.50H373.60M371.00 206.90V212.10" class="pl"/></g>
<g class="pk"><path d="M370.00 325.30L372.80 328.10L370.00 330.90L367.20 328.10Z" class="dm"/><path d="M369.90 424.30L372.70 427.10L369.90 429.90L367.10 427.10Z" class="dm"/><path d="M369.70 450.70L372.50 453.50L369.70 456.30L366.90 453.50Z" class="dm"/><path d="M381.40 452.00L384.20 454.80L381.40 457.60L378.60 454.80Z" class="dm"/><path d="M385.70 458.90L388.50 461.70L385.70 464.50L382.90 461.70Z" class="dm"/><path d="M399.90 459.00L402.70 461.80L399.90 464.60L397.10 461.80Z" class="dm"/><path d="M375.00 462.00L377.80 464.80L375.00 467.60L372.20 464.80Z" class="dm"/><path d="M381.30 462.00L384.10 464.80L381.30 467.60L378.50 464.80Z" class="dm"/><path d="M385.70 462.00L388.50 464.80L385.70 467.60L382.90 464.80Z" class="dm"/><path d="M390.10 462.00L392.90 464.80L390.10 467.60L387.30 464.80Z" class="dm"/><path d="M399.90 462.00L402.70 464.80L399.90 467.60L397.10 464.80Z" class="dm"/><path d="M407.00 462.00L409.80 464.80L407.00 467.60L404.20 464.80Z" class="dm"/><path d="M413.60 462.00L416.40 464.80L413.60 467.60L410.80 464.80Z" class="dm"/><path d="M419.00 462.00L421.80 464.80L419.00 467.60L416.20 464.80Z" class="dm"/><path d="M420.20 462.00L423.00 464.80L420.20 467.60L417.40 464.80Z" class="dm"/><path d="M432.20 462.00L435.00 464.80L432.20 467.60L429.40 464.80Z" class="dm"/><path d="M442.80 462.00L445.60 464.80L442.80 467.60L440.00 464.80Z" class="dm"/><path d="M446.80 462.00L449.60 464.80L446.80 467.60L444.00 464.80Z" class="dm"/><path d="M459.00 462.00L461.80 464.80L459.00 467.60L456.20 464.80Z" class="dm"/><path d="M467.60 462.00L470.40 464.80L467.60 467.60L464.80 464.80Z" class="dm"/><path d="M471.80 462.00L474.60 464.80L471.80 467.60L469.00 464.80Z" class="dm"/><path d="M499.90 462.00L502.70 464.80L499.90 467.60L497.10 464.80Z" class="dm"/><path d="M510.20 462.00L513.00 464.80L510.20 467.60L507.40 464.80Z" class="dm"/><path d="M562.60 462.00L565.40 464.80L562.60 467.60L559.80 464.80Z" class="dm"/><path d="M371.00 272.96L374.20 279.04L367.80 279.04Z" class="tr"/><path d="M370.50 412.06L373.70 418.14L367.30 418.14Z" class="tr"/><path d="M371.50 457.66L374.70 463.74L368.30 463.74Z" class="tr"/><path d="M371.00 461.16L374.20 467.24L367.80 467.24Z" class="tr"/><path d="M383.50 462.16L386.70 468.24L380.30 468.24Z" class="tr"/><rect x="367.40" y="445.45" width="6.20" height="1.70" class="ds"/><rect x="425.10" y="446.85" width="6.20" height="1.70" class="ds"/><rect x="381.30" y="460.35" width="6.20" height="1.70" class="ds"/><rect x="390.60" y="464.15" width="6.20" height="1.70" class="ds"/><rect x="397.70" y="464.15" width="6.20" height="1.70" class="ds"/><rect x="421.90" y="464.15" width="6.20" height="1.70" class="ds"/><rect x="434.40" y="464.15" width="6.20" height="1.70" class="ds"/><rect x="448.10" y="464.15" width="6.20" height="1.70" class="ds"/><rect x="469.50" y="464.15" width="6.20" height="1.70" class="ds"/><rect x="481.30" y="464.15" width="6.20" height="1.70" class="ds"/><rect x="507.90" y="464.15" width="6.20" height="1.70" class="ds"/><rect x="578.40" y="464.15" width="6.20" height="1.70" class="ds"/><rect x="646.40" y="464.15" width="6.20" height="1.70" class="ds"/><path d="M367.40 399.20H372.60M370.00 396.60V401.80" class="pl"/><path d="M369.40 451.70H374.60M372.00 449.10V454.30" class="pl"/><path d="M374.70 462.40H379.90M377.30 459.80V465.00" class="pl"/></g>
<g class="pk"><path d="M370.20 646.60L373.00 649.40L370.20 652.20L367.40 649.40Z" class="dm"/><path d="M370.20 661.20L373.00 664.00L370.20 666.80L367.40 664.00Z" class="dm"/><path d="M370.00 701.20L372.80 704.00L370.00 706.80L367.20 704.00Z" class="dm"/><path d="M370.50 705.50L373.30 708.30L370.50 711.10L367.70 708.30Z" class="dm"/><path d="M372.00 707.20L374.80 710.00L372.00 712.80L369.20 710.00Z" class="dm"/><path d="M375.00 711.80L377.80 714.60L375.00 717.40L372.20 714.60Z" class="dm"/><path d="M381.30 711.80L384.10 714.60L381.30 717.40L378.50 714.60Z" class="dm"/><path d="M385.70 711.80L388.50 714.60L385.70 717.40L382.90 714.60Z" class="dm"/><path d="M390.10 711.80L392.90 714.60L390.10 717.40L387.30 714.60Z" class="dm"/><path d="M399.90 711.80L402.70 714.60L399.90 717.40L397.10 714.60Z" class="dm"/><path d="M407.00 711.80L409.80 714.60L407.00 717.40L404.20 714.60Z" class="dm"/><path d="M413.60 711.80L416.40 714.60L413.60 717.40L410.80 714.60Z" class="dm"/><path d="M419.00 711.80L421.80 714.60L419.00 717.40L416.20 714.60Z" class="dm"/><path d="M420.20 711.80L423.00 714.60L420.20 717.40L417.40 714.60Z" class="dm"/><path d="M432.20 711.80L435.00 714.60L432.20 717.40L429.40 714.60Z" class="dm"/><path d="M442.80 711.80L445.60 714.60L442.80 717.40L440.00 714.60Z" class="dm"/><path d="M446.80 711.80L449.60 714.60L446.80 717.40L444.00 714.60Z" class="dm"/><path d="M459.00 711.80L461.80 714.60L459.00 717.40L456.20 714.60Z" class="dm"/><path d="M467.60 711.80L470.40 714.60L467.60 717.40L464.80 714.60Z" class="dm"/><path d="M471.80 711.80L474.60 714.60L471.80 717.40L469.00 714.60Z" class="dm"/><path d="M499.90 711.80L502.70 714.60L499.90 717.40L497.10 714.60Z" class="dm"/><path d="M510.20 711.80L513.00 714.60L510.20 717.40L507.40 714.60Z" class="dm"/><path d="M562.60 711.80L565.40 714.60L562.60 717.40L559.80 714.60Z" class="dm"/><path d="M370.80 581.16L374.00 587.24L367.60 587.24Z" class="tr"/><path d="M372.30 619.86L375.50 625.94L369.10 625.94Z" class="tr"/><path d="M370.50 636.06L373.70 642.14L367.30 642.14Z" class="tr"/><path d="M370.50 708.66L373.70 714.74L367.30 714.74Z" class="tr"/><path d="M371.00 711.66L374.20 717.74L367.80 717.74Z" class="tr"/><path d="M383.80 712.86L387.00 718.94L380.60 718.94Z" class="tr"/><rect x="367.40" y="630.05" width="6.20" height="1.70" class="ds"/><rect x="425.10" y="702.25" width="6.20" height="1.70" class="ds"/><rect x="480.10" y="712.75" width="6.20" height="1.70" class="ds"/><rect x="390.60" y="714.15" width="6.20" height="1.70" class="ds"/><rect x="397.70" y="714.15" width="6.20" height="1.70" class="ds"/><rect x="421.90" y="714.15" width="6.20" height="1.70" class="ds"/><rect x="434.40" y="714.15" width="6.20" height="1.70" class="ds"/><rect x="448.10" y="714.15" width="6.20" height="1.70" class="ds"/><rect x="469.50" y="714.15" width="6.20" height="1.70" class="ds"/><rect x="481.30" y="714.15" width="6.20" height="1.70" class="ds"/><rect x="507.90" y="714.15" width="6.20" height="1.70" class="ds"/><rect x="578.40" y="714.15" width="6.20" height="1.70" class="ds"/><rect x="646.40" y="714.15" width="6.20" height="1.70" class="ds"/><path d="M368.20 545.30H373.40M370.80 542.70V547.90" class="pl"/><path d="M368.70 683.80H373.90M371.30 681.20V686.40" class="pl"/><path d="M374.70 705.90H379.90M377.30 703.30V708.50" class="pl"/></g>
<path d="M266.50 38.10L268.80 40.40L266.50 42.70L264.20 40.40Z" class="dm"/>
<path d="M266.50 53.69L269.00 58.44L264.00 58.44Z" class="tr"/>
<rect x="264.00" y="71.50" width="5.00" height="1.60" class="ds"/>
<path d="M264.30 87.50H268.70M266.50 85.30V89.70" class="pl"/>
<text x="270.4" y="43.10" class="lg">2015 BH</text>
<text x="270.4" y="59.00" class="lg">2015 DW</text>
<text x="270.4" y="75.00" class="lg">2016 BH</text>
<text x="270.4" y="90.20" class="lg">2016 DW</text>
<path d="M265.40 412.10L267.70 414.40L265.40 416.70L263.10 414.40Z" class="dm"/>
<path d="M265.40 426.69L267.90 431.44L262.90 431.44Z" class="tr"/>
<rect x="262.90" y="443.50" width="5.00" height="1.60" class="ds"/>
<path d="M263.20 459.50H267.60M265.40 457.30V461.70" class="pl"/>
<text x="269.1" y="417.10" class="lg">2015 BH</text>
<text x="269.1" y="432.00" class="lg">2015 DW</text>
<text x="269.1" y="447.00" class="lg">2016 BH</text>
<text x="269.1" y="462.20" class="lg">2016 DW</text>
<path d="M261.50 659.30L263.80 661.60L261.50 663.90L259.20 661.60Z" class="dm"/>
<path d="M261.50 673.99L264.00 678.74L259.00 678.74Z" class="tr"/>
<rect x="259.00" y="690.60" width="5.00" height="1.60" class="ds"/>
<path d="M259.30 706.20H263.70M261.50 704.00V708.40" class="pl"/>
<text x="265.1" y="664.30" class="lg">2015 BH</text>
<text x="265.1" y="679.30" class="lg">2015 DW</text>
<text x="265.1" y="694.10" class="lg">2016 BH</text>
<text x="265.1" y="708.90" class="lg">2016 DW</text>
<path d="M609.10 156.70L611.40 159.00L609.10 161.30L606.80 159.00Z" class="dm"/>
<path d="M609.10 171.89L611.60 176.64L606.60 176.64Z" class="tr"/>
<rect x="606.60" y="188.50" width="5.00" height="1.60" class="ds"/>
<path d="M606.90 204.40H611.30M609.10 202.20V206.60" class="pl"/>
<text x="612.8" y="161.70" class="lg">2015 BH</text>
<text x="612.8" y="177.20" class="lg">2015 DW</text>
<text x="612.8" y="192.00" class="lg">2016 BH</text>
<text x="612.8" y="207.10" class="lg">2016 DW</text>
<path d="M609.10 407.10L611.40 409.40L609.10 411.70L606.80 409.40Z" class="dm"/>
<path d="M609.10 422.49L611.60 427.24L606.60 427.24Z" class="tr"/>
<rect x="606.60" y="439.10" width="5.00" height="1.60" class="ds"/>
<g class="pk"><path d="M606.90 455.20H611.30M609.10 453.00V457.40" class="pl"/></g>
<text x="612.8" y="412.10" class="lg">2015 BH</text>
<text x="612.8" y="427.80" class="lg">2015 DW</text>
<text x="612.8" y="442.60" class="lg">2016 BH</text>
<text x="612.8" y="457.90" class="lg">2016 DW</text>
<path d="M609.10 657.10L611.40 659.40L609.10 661.70L606.80 659.40Z" class="dm"/>
<path d="M609.10 672.49L611.60 677.24L606.60 677.24Z" class="tr"/>
<rect x="606.60" y="689.10" width="5.00" height="1.60" class="ds"/>
<g class="pk"><path d="M606.90 705.20H611.30M609.10 703.00V707.40" class="pl"/></g>
<text x="612.8" y="662.10" class="lg">2015 BH</text>
<text x="612.8" y="677.80" class="lg">2015 DW</text>
<text x="612.8" y="692.60" class="lg">2016 BH</text>
<text x="612.8" y="707.90" class="lg">2016 DW</text>
</svg></body></html>
